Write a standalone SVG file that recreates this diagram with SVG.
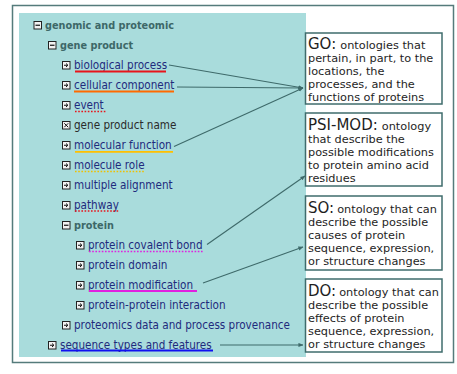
<svg xmlns="http://www.w3.org/2000/svg" xmlns:xlink="http://www.w3.org/1999/xlink" width="457" height="374" viewBox="0 0 457 374">
<style>
.t{font-family:"DejaVu Sans Condensed","DejaVu Sans",sans-serif;font-size:11.6px;fill:#1f2b7d}
.b{font-weight:bold;font-size:10.8px;fill:#3d6868}
.g{fill:#2b2b2b}
.bx{fill:#fff;stroke:#3f6c6c;stroke-width:1.5}
.bt{font-family:"DejaVu Sans",Verdana,sans-serif;font-size:11.3px;fill:#1e1e1e}
.h{font-size:15px}
.ul{stroke-width:1.8;fill:none}
.dot{stroke-width:1.6;stroke-dasharray:1.6 1.6;fill:none}
.cn{fill:none;stroke:#3e6a6a;stroke-width:1.1}
</style>
<defs>
<g id="ic-arrow"><rect x="0.5" y="0.5" width="7.5" height="7.5" fill="#f2f2f2" stroke="#222" stroke-width="1"/><path d="M2,4.25H5.8M4,2.5L5.9,4.25L4,6" fill="none" stroke="#111" stroke-width="1"/></g>
<g id="ic-minus"><rect x="0.5" y="0.5" width="7.5" height="7.5" fill="#f2f2f2" stroke="#222" stroke-width="1"/><path d="M2,4.25H6.5" stroke="#111" stroke-width="1.2"/></g>
<g id="ic-x"><rect x="0.5" y="0.5" width="7.5" height="7.5" fill="#f2f2f2" stroke="#222" stroke-width="1"/><path d="M2.3,2.3L6.2,6.2M6.2,2.3L2.3,6.2" stroke="#111" stroke-width="1"/></g>
<marker id="ah" viewBox="0 0 6 6" refX="5.5" refY="3" markerWidth="5" markerHeight="5" markerUnits="userSpaceOnUse" orient="auto"><path d="M0,0.5L6,3L0,5.5z" fill="#3e6a6a"/></marker>
</defs>
<rect x="12.5" y="5.5" width="441" height="357" fill="#fff" stroke="#557b7b" stroke-width="1.5"/>
<rect x="19" y="13" width="287" height="344" fill="#a9dcdc"/>

<g id="n-genomic"><use xlink:href="#ic-minus" x="33.5" y="21"/><text class="t b" x="45" y="29">genomic and proteomic</text></g>
<g id="n-geneproduct"><use xlink:href="#ic-minus" x="48" y="41"/><text class="t b" x="60" y="49">gene product</text></g>
<g id="n-bioproc"><use xlink:href="#ic-arrow" x="62" y="61"/><text class="t" x="74" y="69">biological process</text><path class="ul" stroke="#e8151b" d="M75,71.5H166"/></g>
<g id="n-cellcomp"><use xlink:href="#ic-arrow" x="62" y="81"/><text class="t" x="74" y="89">cellular component</text><path class="ul" stroke="#ff6a00" d="M74,91.5H174"/></g>
<g id="n-event"><use xlink:href="#ic-arrow" x="62" y="101"/><text class="t" x="74" y="109">event</text><path class="dot" stroke="#e8151b" d="M75,111.5H106"/></g>
<g id="n-gpname"><use xlink:href="#ic-x" x="62" y="121"/><text class="t g" x="74" y="129">gene product name</text></g>
<g id="n-molfunc"><use xlink:href="#ic-arrow" x="62" y="141"/><text class="t" x="74" y="149">molecular function</text><path class="ul" stroke="#ffc000" d="M75,151.8H173"/></g>
<g id="n-molrole"><use xlink:href="#ic-arrow" x="62" y="161"/><text class="t" x="74" y="169">molecule role</text><path class="dot" stroke="#f0c000" d="M75,171.5H145"/></g>
<g id="n-multialign"><use xlink:href="#ic-arrow" x="62" y="181"/><text class="t" x="74" y="189">multiple alignment</text></g>
<g id="n-pathway"><use xlink:href="#ic-arrow" x="62" y="201"/><text class="t" x="74" y="209">pathway</text><path class="dot" stroke="#e8151b" d="M75,211H119"/></g>
<g id="n-protein"><use xlink:href="#ic-minus" x="62" y="221"/><text class="t b" x="74" y="229">protein</text></g>
<g id="n-covbond"><use xlink:href="#ic-arrow" x="76" y="241"/><text class="t" x="88" y="249">protein covalent bond</text><path class="dot" stroke="#e020e0" d="M89,251.5H204"/></g>
<g id="n-domain"><use xlink:href="#ic-arrow" x="76" y="261"/><text class="t" x="88" y="269">protein domain</text></g>
<g id="n-modif"><use xlink:href="#ic-arrow" x="76" y="281"/><text class="t" x="88" y="289">protein modification</text><path class="ul" stroke="#e020e0" d="M89,291H197"/></g>
<g id="n-ppi"><use xlink:href="#ic-arrow" x="76" y="301"/><text class="t" x="88" y="309">protein-protein interaction</text></g>
<g id="n-provenance"><use xlink:href="#ic-arrow" x="62" y="321"/><text class="t" x="74" y="329">proteomics data and process provenance</text></g>
<g id="n-seqtypes"><use xlink:href="#ic-arrow" x="48" y="341"/><text class="t" x="60" y="349">sequence types and features</text><path class="ul" stroke="#1010f0" d="M61,350.5H213"/></g>

<g id="box-go"><rect class="bx" x="305.5" y="33" width="136.5" height="71"/>
<text class="bt" x="308" y="49"><tspan class="h">GO:</tspan><tspan dx="4">ontologies that</tspan></text>
<text class="bt" x="308" y="62">pertain, in part, to the</text>
<text class="bt" x="308" y="75">locations, the</text>
<text class="bt" x="308" y="88">processes, and the</text>
<text class="bt" x="308" y="101">functions of proteins</text></g>
<g id="box-psimod"><rect class="bx" x="305.5" y="113" width="136.5" height="73"/>
<text class="bt" x="308" y="130"><tspan class="h">PSI-MOD:</tspan><tspan dx="4">ontology</tspan></text>
<text class="bt" x="308" y="143">that describe the</text>
<text class="bt" x="308" y="156">possible modifications</text>
<text class="bt" x="308" y="169">to protein amino acid</text>
<text class="bt" x="308" y="182">residues</text></g>
<g id="box-so"><rect class="bx" x="305.5" y="196" width="136.5" height="74"/>
<text class="bt" x="308" y="213"><tspan class="h">SO:</tspan><tspan dx="3">ontology that can</tspan></text>
<text class="bt" x="308" y="226">describe the possible</text>
<text class="bt" x="308" y="239">causes of protein</text>
<text class="bt" x="308" y="252">sequence, expression,</text>
<text class="bt" x="308" y="265">or structure changes</text></g>
<g id="box-do"><rect class="bx" x="305.5" y="279" width="136.5" height="73"/>
<text class="bt" x="308" y="296"><tspan class="h">DO:</tspan><tspan dx="3">ontology that can</tspan></text>
<text class="bt" x="308" y="309">describe the possible</text>
<text class="bt" x="308" y="322">effects of protein</text>
<text class="bt" x="308" y="335">sequence, expression,</text>
<text class="bt" x="308" y="348">or structure changes</text></g>

<g id="connectors">
<path class="cn" stroke-width="1.3" d="M169,65L303,88" marker-end="url(#ah)"/>
<path class="cn" stroke-width="0.9" d="M177,87L303,88" marker-end="url(#ah)"/>
<path class="cn" stroke-width="1.3" d="M174,146.5L303,88" marker-end="url(#ah)"/>
<path class="cn" d="M207,244.5L305,176" marker-end="url(#ah)"/>
<path class="cn" stroke-width="0.9" d="M203,283L303,247" marker-end="url(#ah)"/>
<path class="cn" stroke-width="0.9" d="M220,345L303,345" marker-end="url(#ah)"/>
</g>
</svg>
